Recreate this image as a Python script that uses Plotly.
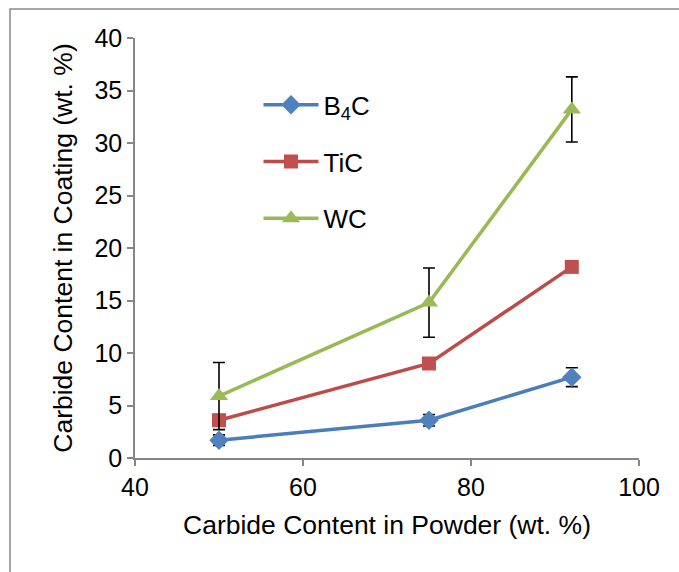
import plotly.graph_objects as go

# Carbide content in the feed powder (wt. %)
powder = [50, 75, 92]

# Carbide content retained in the coating (wt. %) and standard deviations
b4c = [1.7, 3.6, 7.7]
b4c_err = [0.5, 0.55, 0.9]
tic = [3.6, 9.0, 18.2]
wc = [5.9, 14.8, 33.2]
wc_err = [3.2, 3.3, 3.1]

series = [
    ("B<sub>4</sub>C", b4c, b4c_err, "#4A7EBB", "#4F81BD", "diamond", 15),
    ("TiC", tic, None, "#BE4B48", "#C0504D", "square", 14),
    ("WC", wc, wc_err, "#98B954", "#9BBB59", "triangle-up", 16),
]

FONT = "Liberation Sans, Arial, sans-serif"
AXIS_GREY = "#868686"

fig = go.Figure()
for i, (name, vals, err, lc, mc, sym, size) in enumerate(series):
    fig.add_trace(go.Scatter(
        x=powder, y=vals, name=name, mode="lines+markers",
        line=dict(color=lc, width=3.5),
        marker=dict(symbol=sym, size=size, color=mc, line=dict(width=0)),
        error_y=(dict(type="data", array=err, visible=True, color="black",
                      thickness=1.6, width=6) if err else None),
        legendgroup=f"g{i}",
    ))

fig.update_layout(
    width=679, height=572,
    margin=dict(l=135, r=40, t=38, b=114),
    paper_bgcolor="white", plot_bgcolor="white",
    font=dict(family=FONT, size=25, color="black"),
    showlegend=True,
    legend=dict(
        x=0.245, y=0.897, xanchor="left", yanchor="top",
        bgcolor="rgba(0,0,0,0)", font=dict(size=26),
        tracegroupgap=20, itemwidth=55,
    ),
    xaxis=dict(
        range=[40, 100], tickvals=[40, 60, 80, 100],
        showgrid=False, zeroline=False,
        showline=True, linecolor=AXIS_GREY, linewidth=1.5,
        ticks="outside", ticklen=6, tickcolor=AXIS_GREY, tickwidth=1.5,
        tickfont=dict(size=25),
        title=dict(text="Carbide Content in Powder (wt. %)",
                   font=dict(size=26.5), standoff=16),
    ),
    yaxis=dict(
        range=[0, 40], tickvals=list(range(0, 41, 5)),
        showgrid=False, zeroline=False,
        showline=True, linecolor=AXIS_GREY, linewidth=1.5,
        ticks="outside", ticklen=6, tickcolor=AXIS_GREY, tickwidth=1.5,
        tickfont=dict(size=25),
        title=dict(text="Carbide Content in Coating (wt. %)",
                   font=dict(size=26.5), standoff=14),
    ),
    shapes=[dict(
        type="rect", xref="paper", yref="paper",
        x0=-0.248, x1=1.5, y0=-1.0, y1=1.069,
        line=dict(color="#898989", width=1.5), fillcolor="rgba(0,0,0,0)",
        layer="below",
    )],
)

fig.write_html("out.html")
